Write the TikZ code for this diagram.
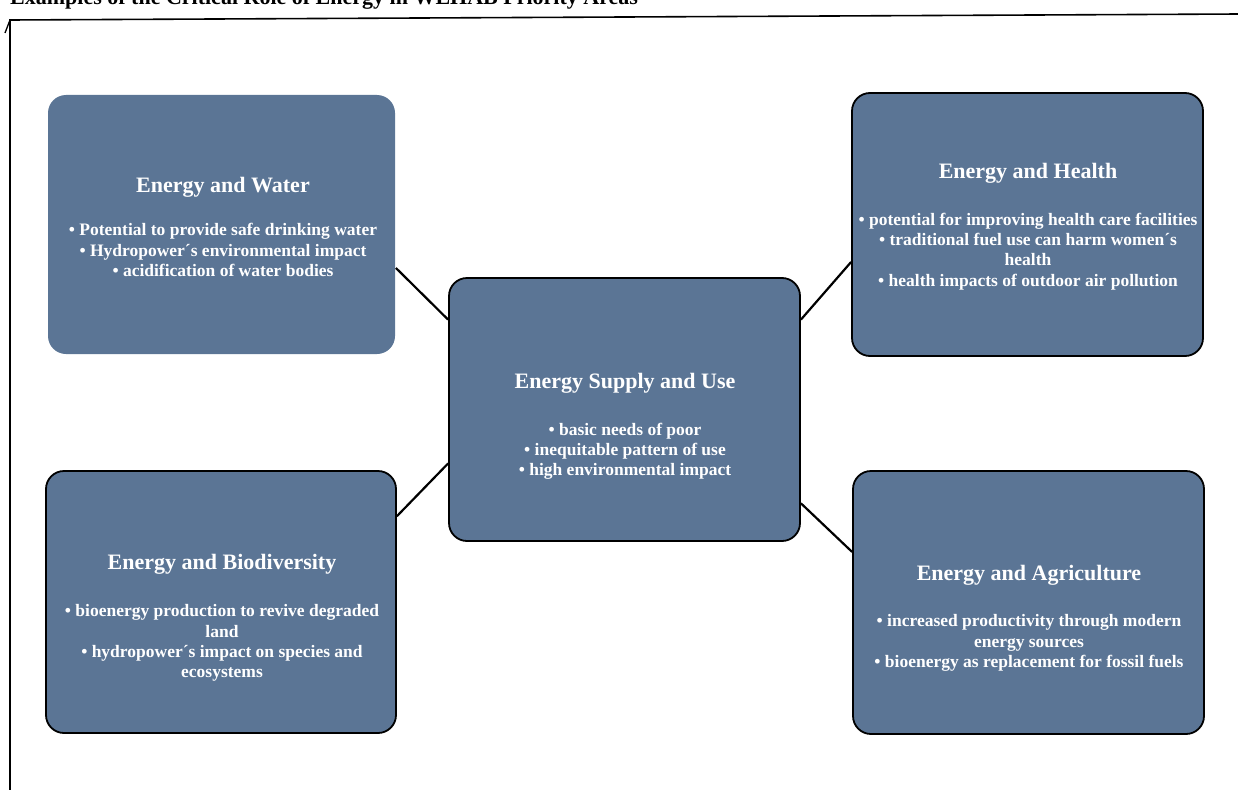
\documentclass[tikz,border=0pt]{standalone}
\usepackage{fontspec}
\setmainfont{Liberation Serif}
\definecolor{panelblue}{RGB}{91,117,149}
\begin{document}
\begin{tikzpicture}[x=1pt,y=-1pt,
  panel/.style={rounded corners=18pt, fill=panelblue, draw=black, line width=1.8pt,
    inner sep=0pt},
  heading/.style={text=white, font=\fontsize{22}{26}\selectfont\bfseries, inner sep=0pt},
  points/.style={text=white, font=\fontsize{17.5}{20.2}\selectfont\bfseries, align=center, inner sep=0pt},
  link/.style={line width=2.2pt, black}]
\useasboundingbox (0,0) rectangle (1238,789);

% caption, partly cut by the page edge
\node[anchor=base west, font=\fontsize{22}{26}\selectfont\bfseries, inner sep=0pt] (caption)
  at (10,4.5) {Examples of the Critical Role of Energy in WEHAB Priority Areas};

% frame
\coordinate (fr-tl) at (10,20);
\coordinate (fr-tr) at (1240,14);
\coordinate (fr-bl) at (10,792);
\coordinate (fr-tick) at (5,33);
\draw[line width=1.6pt] (fr-bl) -- (fr-tl) -- (fr-tr);
\draw[line width=1.3pt] (fr-tl) -- (fr-tick);

% panels
\node[panel, draw=none, minimum width=347pt, minimum height=259pt] (water) at (221.5,224.5) {};
\node[panel, minimum width=351pt, minimum height=263pt] (health) at (1027.5,224.5) {};
\node[panel, minimum width=351pt, minimum height=263pt] (supply) at (624.5,409.5) {};
\node[panel, minimum width=350pt, minimum height=262pt] (bio) at (221,602) {};
\node[panel, minimum width=351pt, minimum height=263pt] (agri) at (1028.5,602.5) {};

% panel texts
\node[heading] (water-h) at (223,187) {Energy and Water};
\node[points] (water-p) at (223,250) {• Potential to provide safe drinking water\\
  • Hydropower´s environmental impact\\ • acidification of water bodies};

\node[heading] (health-h) at (1028,173) {Energy and Health};
\node[points] (health-p) at (1028,251.5) {• potential for improving health care facilities\\
  • traditional fuel use can harm women´s\\ health\\ • health impacts of outdoor air pollution};

\node[heading] (supply-h) at (625,383) {Energy Supply and Use};
\node[points] (supply-p) at (625,451) {• basic needs of poor\\ • inequitable pattern of use\\
  • high environmental impact};

\node[heading] (bio-h) at (222,564) {Energy and Biodiversity};
\node[points] (bio-p) at (222,643) {• bioenergy production to revive degraded\\ land\\
  • hydropower´s impact on species and\\ ecosystems};

\node[heading] (agri-h) at (1029,575) {Energy and Agriculture};
\node[points] (agri-p) at (1029,643) {• increased productivity through modern\\ energy sources\\
  • bioenergy as replacement for fossil fuels};

% connectors
\draw[link] (water.-14) -- (supply.153.5);
\draw[link] (supply.27.5) -- (health.-168.5);
\draw[link] (supply.-163.7) -- (bio.26.2);
\draw[link] (supply.-28.5) -- (agri.164.2);
\end{tikzpicture}
\end{document}
